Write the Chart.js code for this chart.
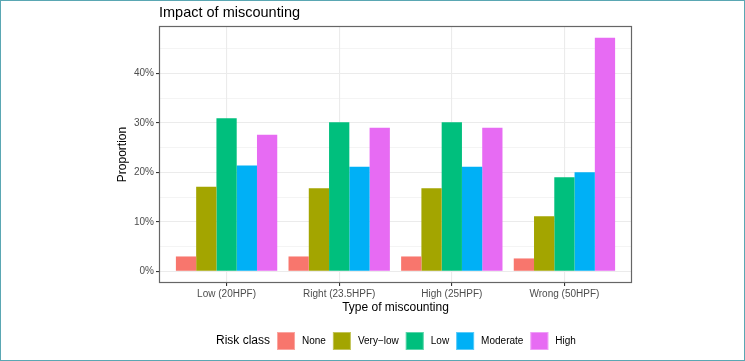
<!DOCTYPE html>
<html>
<head>
<meta charset="utf-8">
<script src="https://cdn.jsdelivr.net/npm/chart.js@4.4.1/dist/chart.umd.min.js"></script>
<style>
  html, body { margin: 0; padding: 0; background: #fff; }
  #wrap { width: 745px; height: 361px; }
</style>
</head>
<body>
<div id="wrap"><canvas id="chart" width="745" height="361"></canvas></div>
<script>
const categories = ["Low (20HPF)", "Right (23.5HPF)", "High (25HPF)", "Wrong (50HPF)"];
const riskClasses = ["None", "Very-low", "Low", "Moderate", "High"];
const none = [3.0, 3.0, 3.0, 2.6];
const veryLow = [17.1, 16.8, 16.8, 11.1];
const low = [30.9, 30.1, 30.1, 19.0];
const moderate = [21.4, 21.1, 21.1, 20.0];
const high = [27.6, 29.0, 29.0, 47.2];
const yTicks = [0, 5, 10, 15, 20, 25, 30, 35, 40, 45];

const series = [none, veryLow, low, moderate, high];
const colors = ["#F8766D", "#A3A500", "#00BF7D", "#00B0F6", "#E76BF3"];
const font = "'Liberation Sans', Arial, sans-serif";

Chart.defaults.font.family = font;

// ggplot-ish frame, title and legend
const decor = {
  id: "decor",
  afterDraw(chart) {
    const { ctx, chartArea: a } = chart;
    ctx.save();
    ctx.strokeStyle = "#666";
    ctx.lineWidth = 1.2;
    ctx.strokeRect(a.left + 0.5, a.top + 0.5, a.right - a.left - 1, a.bottom - a.top - 1);

    ctx.fillStyle = "#000";
    ctx.font = "14.5px " + font;
    ctx.textBaseline = "alphabetic";
    ctx.fillText("Impact of miscounting", a.left, 17);

    // legend (R draws the hyphen as a minus sign)
    const cy = 341;
    let x = 216;
    ctx.textBaseline = "middle";
    ctx.font = "12px " + font;
    ctx.fillText("Risk class", x, cy);
    x += ctx.measureText("Risk class").width + 7;
    ctx.font = "10px " + font;
    ctx.lineWidth = 1;
    chart.data.datasets.forEach((ds) => {
      ctx.fillStyle = ds.backgroundColor;
      ctx.fillRect(x, cy - 9, 18, 18);
      ctx.strokeStyle = "rgba(255,255,255,0.35)";
      ctx.strokeRect(x + 0.5, cy - 8.5, 17, 17);
      x += 18 + 7;
      const txt = ds.label.replace("-", "\u2212");
      ctx.fillStyle = "#000";
      ctx.fillText(txt, x, cy);
      x += ctx.measureText(txt).width + 7;
    });

    ctx.strokeStyle = "#5AA7B3";
    ctx.strokeRect(0.5, 0.5, 744, 360);
    ctx.restore();
  },
};

new Chart(document.getElementById("chart"), {
  type: "bar",
  data: {
    datasets: riskClasses.map((name, i) => ({
      label: name,
      data: series[i].map((v, j) => ({ x: j, y: v })),
      backgroundColor: colors[i],
      borderWidth: 0,
      categoryPercentage: 0.9,
      barPercentage: 1,
    })),
  },
  options: {
    responsive: false,
    animation: false,
    devicePixelRatio: 1,
    layout: { padding: { top: 26, left: 0, right: 113, bottom: 0 } },
    plugins: { legend: { display: false }, title: { display: false }, tooltip: { enabled: false } },
    scales: {
      x: {
        type: "linear",
        offset: false,
        min: -0.6,
        max: 3.6,
        afterBuildTicks: (s) => { s.ticks = categories.map((c, i) => ({ value: i })); },
        afterFit: (s) => { s.height = 78; },
        border: { display: false },
        grid: { offset: false, color: "#EBEBEB", lineWidth: 1.1, tickColor: "#333", tickLength: 3 },
        ticks: {
          autoSkip: false,
          maxRotation: 0,
          padding: 2,
          color: "#4D4D4D",
          font: { size: 10 },
          callback: (v) => categories[v],
        },
        title: {
          display: true,
          text: "Type of miscounting",
          color: "#000",
          font: { size: 12 },
          padding: { top: 0, bottom: 46 },
        },
      },
      y: {
        min: -2.36,
        max: 49.56,
        afterBuildTicks: (s) => { s.ticks = yTicks.map((v) => ({ value: v })); },
        afterFit: (s) => { s.width = 159; },
        border: { display: false },
        grid: {
          color: "#EBEBEB",
          lineWidth: (c) => (c.tick && c.tick.value % 10 !== 0 ? 0.55 : 1.1),
          tickColor: (c) => (c.tick && c.tick.value % 10 !== 0 ? "rgba(0,0,0,0)" : "#333"),
          tickLength: 3,
        },
        ticks: {
          autoSkip: false,
          padding: 2,
          color: "#4D4D4D",
          font: { size: 10 },
          callback: (v) => (v % 10 === 0 ? v + "%" : ""),
        },
        title: {
          display: true,
          text: "Proportion",
          color: "#000",
          font: { size: 12 },
          padding: { top: 115.8, bottom: 0 },
        },
      },
    },
  },
  plugins: [decor],
});
</script>
</body>
</html>
